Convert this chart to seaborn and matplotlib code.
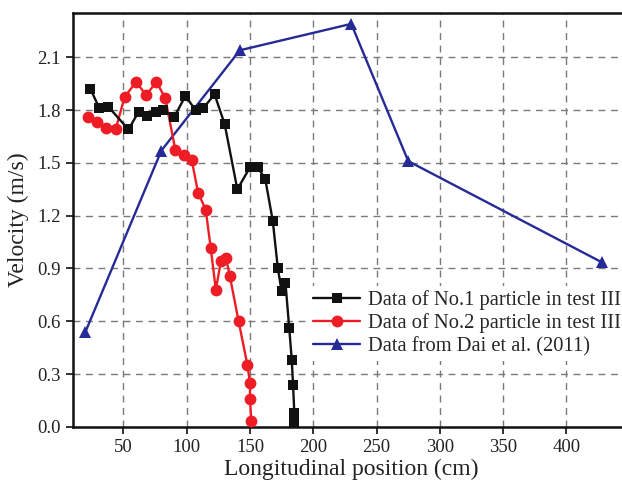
import matplotlib
matplotlib.use("Agg")
import matplotlib.pyplot as plt
import seaborn as sns
import pandas as pd

# Data of No.1 particle in test III
p1_x = [24, 31, 38, 54, 62, 69, 76, 81, 90, 99, 107, 113, 122, 130, 140, 150, 156,
        162, 168, 172, 175, 178, 181, 183, 184, 185, 185]
p1_y = [1.92, 1.81, 1.82, 1.69, 1.79, 1.765, 1.79, 1.80, 1.76, 1.88, 1.80, 1.81, 1.89,
        1.72, 1.35, 1.475, 1.475, 1.41, 1.17, 0.90, 0.77, 0.82, 0.56, 0.38, 0.24, 0.08, 0.03]

# Data of No.2 particle in test III
p2_x = [22, 29, 36, 44, 51, 60, 68, 76, 83, 91, 98, 104, 109, 115, 119, 123, 127, 131,
        134, 141, 148, 150, 150, 151]
p2_y = [1.76, 1.73, 1.70, 1.695, 1.875, 1.96, 1.885, 1.96, 1.87, 1.575, 1.545, 1.515,
        1.33, 1.235, 1.015, 0.78, 0.94, 0.96, 0.86, 0.60, 0.35, 0.25, 0.16, 0.035]

# Data from Dai et al. (2011)
dai_x = [20, 80, 142, 230, 275, 428]
dai_y = [0.54, 1.57, 2.14, 2.29, 1.51, 0.935]

labels = ["Data of No.1 particle in test III",
          "Data of No.2 particle in test III",
          "Data from Dai et al. (2011)"]
x_ticks = [50, 100, 150, 200, 250, 300, 350, 400]
y_ticks = [0.0, 0.3, 0.6, 0.9, 1.2, 1.5, 1.8, 2.1]

sns.set_style("ticks")
plt.rcParams["font.family"] = ["Liberation Serif", "DejaVu Serif"]

fig = plt.figure(figsize=(6.22, 4.84), dpi=100)
ax = fig.add_axes([0.117, 0.118, 0.8955, 0.8545])

ax.grid(True, color="#7a7a7a", linestyle=(0, (5, 4)), linewidth=1.0, zorder=0)
ax.set_axisbelow(True)

df1 = pd.DataFrame({"x": p1_x, "y": p1_y})
df2 = pd.DataFrame({"x": p2_x, "y": p2_y})
df3 = pd.DataFrame({"x": dai_x, "y": dai_y})

sns.lineplot(data=df1, x="x", y="y", ax=ax, sort=False, estimator=None,
             color="#111111", marker="s", markersize=7, markeredgewidth=0,
             linewidth=1.7, label=labels[0], zorder=4)
sns.lineplot(data=df2, x="x", y="y", ax=ax, sort=False, estimator=None,
             color="#ee1c25", marker="o", markersize=8.5, markeredgewidth=0,
             linewidth=1.7, label=labels[1], zorder=3)
sns.lineplot(data=df3, x="x", y="y", ax=ax, sort=False, estimator=None,
             color="#262a96", marker="^", markersize=9, markeredgewidth=0,
             linewidth=1.7, label=labels[2], zorder=2)

ax.set_xlim(10, 450)
ax.set_ylim(0, 2.35)
ax.set_xticks(x_ticks)
ax.set_yticks(y_ticks)
ax.set_yticklabels([f"{v:.1f}" for v in y_ticks])
ax.tick_params(axis="both", direction="out", length=5, width=1.3, labelsize=13.5,
               color="#222222", labelcolor="#222222")
for s in ax.spines.values():
    s.set_linewidth(1.8)
    s.set_color("#111111")

ax.set_xlabel("Longitudinal position (cm)", fontsize=17, color="#222222", labelpad=2)
ax.set_ylabel("Velocity (m/s)", fontsize=17, color="#222222", labelpad=6)

leg = ax.legend(loc="lower left", bbox_to_anchor=(0.424, 0.16), frameon=True,
                fontsize=14.8, handlelength=2.3, handletextpad=0.35,
                labelspacing=0.18, borderpad=0.2, borderaxespad=0)
leg.get_frame().set_facecolor("white")
leg.get_frame().set_edgecolor("none")
leg.get_frame().set_alpha(1.0)
leg.set_zorder(10)

fig.savefig("out.png", dpi=100)
